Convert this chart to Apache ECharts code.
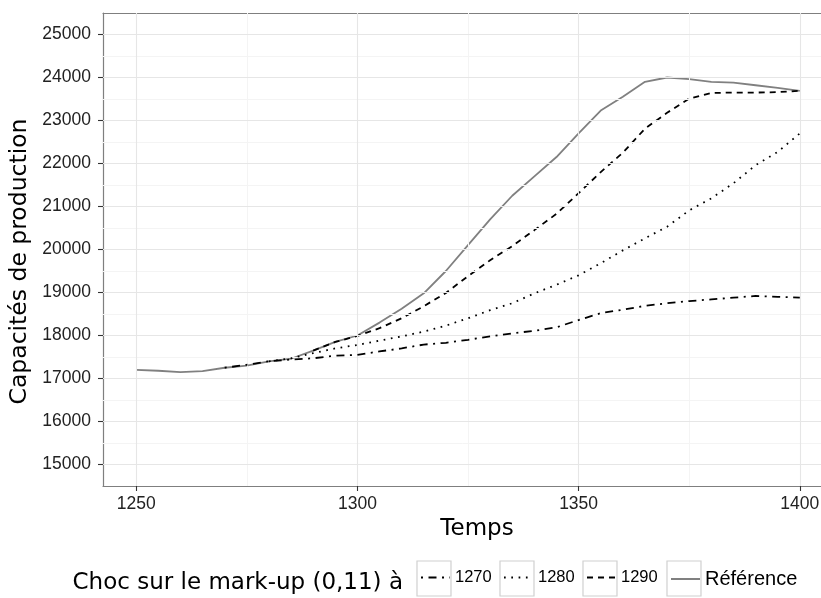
<!DOCTYPE html>
<html><head><meta charset="utf-8">
<script src="https://cdn.jsdelivr.net/npm/echarts@6/dist/echarts.min.js"></script>
<style>html,body{margin:0;padding:0;background:#fff}#c{width:821px;height:598px}</style>
</head><body><div id="c"></div>
<script>
const years = [1250,1255,1260,1265,1270,1275,1280,1285,1290,1295,1300,1305,1310,1315,1320,1325,1330,1335,1340,1345,1350,1355,1360,1365,1370,1375,1380,1385,1390,1395,1400];
const reference = [17200,17180,17150,17170,17250,17300,17400,17460,17650,17850,18000,18300,18620,18980,19500,20100,20700,21250,21700,22150,22700,23230,23550,23900,24000,23960,23900,23880,23820,23760,23690];
const shock1270 = [null,null,null,null,17250,17320,17400,17440,17470,17530,17550,17630,17700,17790,17830,17900,17980,18050,18110,18190,18360,18520,18600,18690,18750,18800,18840,18880,18920,18900,18880];
const shock1280 = [null,null,null,null,null,null,17400,17470,17590,17700,17780,17880,17980,18090,18230,18400,18590,18750,18980,19180,19400,19680,19980,20260,20530,20910,21190,21540,21960,22270,22700];
const shock1290 = [null,null,null,null,null,null,null,null,17650,17850,17990,18170,18400,18680,18990,19380,19750,20080,20450,20830,21310,21800,22250,22810,23180,23510,23640,23650,23650,23660,23690];
const xTicks = [1250,1300,1350,1400];
const yTicks = [15000,16000,17000,18000,19000,20000,21000,22000,23000,24000,25000];
const legendNames = ['1270','1280','1290','Référence'];
const legendTitle = 'Choc sur le mark-up (0,11) à';

function pairs(vals){ const out=[]; vals.forEach((v,i)=>{ if(v!==null) out.push([years[i], v]); }); return out; }

const xMinor = xTicks.slice(0,-1).map((v,i)=>(v+xTicks[i+1])/2);
const yMinor = yTicks.slice(0,-1).map((v,i)=>(v+yTicks[i+1])/2);
const MAJ = '#e6e6e6', MIN = '#f4f4f4';
const gridMarks = [].concat(
  xMinor.map(v=>({xAxis:v, lineStyle:{color:MIN,width:1,type:'solid'}})),
  yMinor.map(v=>({yAxis:v, lineStyle:{color:MIN,width:1,type:'solid'}})),
  xTicks.map(v=>({xAxis:v, lineStyle:{color:MAJ,width:1.1,type:'solid'}})),
  yTicks.map(v=>({yAxis:v, lineStyle:{color:MAJ,width:1.1,type:'solid'}}))
);

const styles = {
  '1270': {color:'#000', type:[2,5.5,8,5.5]},
  '1280': {color:'#000', type:[1.7,5.6]},
  '1290': {color:'#000', type:[6,5]},
  'Référence': {color:'#808080', type:'solid'}
};
const dataMap = {'1270':shock1270,'1280':shock1280,'1290':shock1290,'Référence':reference};

const series = [{
  type:'line', data:[], silent:true, z:1,
  markLine:{silent:true, symbol:['none','none'], label:{show:false}, animation:false, data:gridMarks}
}];
['Référence','1290','1280','1270'].forEach((n,k)=>{
  series.push({
    name:n, type:'line', data:pairs(dataMap[n]), symbol:'none', showSymbol:false,
    z: 3+k, lineStyle:{color:styles[n].color, width:1.8, type:styles[n].type, cap:'butt'},
    itemStyle:{color:styles[n].color}, emphasis:{disabled:true}
  });
});

const boxLefts = [417,500,583,667];
const legends = legendNames.map((n,i)=>({
  data:[n], left:boxLefts[i]+3, top:569, padding:0, itemWidth:29, itemHeight:14,
  selectedMode:false,
  itemStyle:{color:'rgba(0,0,0,0)', borderWidth:0, opacity:0},
  textStyle:{fontFamily:'Liberation Sans', fontSize: n==='Référence'?20:16.5, color:'#000'}
}));

const graphic = [{
  type:'text', x:403, y:583,
  style:{text:legendTitle, fontFamily:'DejaVu Sans', fontSize:23, fill:'#000', align:'right', verticalAlign:'middle'}
}].concat(boxLefts.map(x=>({
  type:'rect', shape:{x:x, y:561, width:34, height:35}, style:{fill:'none', stroke:'#d0d0d0', lineWidth:1.2}, z:-1
})));

const plain = v => String(v);
const BORDER = {show:true, lineStyle:{color:'#7f7f7f', width:1.2}};

const chart = echarts.init(document.getElementById('c'), null, {renderer:'canvas'});
chart.setOption({
  animation:false,
  backgroundColor:'#fff',
  grid:{left:103, top:13, width:730, height:473, outerBoundsMode:'none', containLabel:false, show:false},
  xAxis:[{
    type:'value', min:1242.5, max:1407.5, position:'bottom',
    name:'Temps', nameLocation:'middle', nameGap:32,
    nameTextStyle:{fontFamily:'DejaVu Sans', fontSize:23, color:'#000', padding:[0,0,0,18]},
    axisLine:BORDER,
    axisTick:{show:true, customValues:xTicks, length:5, lineStyle:{color:'#333', width:1.1}},
    axisLabel:{customValues:xTicks, formatter:plain, margin:9, fontFamily:'Liberation Sans', fontSize:17.5, color:'#222'},
    splitLine:{show:false}
  },{
    type:'value', min:1242.5, max:1407.5, position:'top',
    axisLine:BORDER, axisTick:{show:false}, axisLabel:{show:false}, splitLine:{show:false}
  }],
  yAxis:{
    type:'value', min:14500, max:25500,
    name:'Capacités de production', nameLocation:'middle', nameGap:68,
    nameTextStyle:{fontFamily:'DejaVu Sans', fontSize:23.5, color:'#000', padding:[0,24,0,0]},
    axisLine:BORDER,
    axisTick:{show:true, customValues:yTicks, length:5, lineStyle:{color:'#333', width:1.1}},
    axisLabel:{customValues:yTicks, formatter:plain, margin:12, fontFamily:'Liberation Sans', fontSize:17.5, color:'#222'},
    splitLine:{show:false}
  },
  legend:legends,
  graphic:graphic,
  series:series
});
</script></body></html>
